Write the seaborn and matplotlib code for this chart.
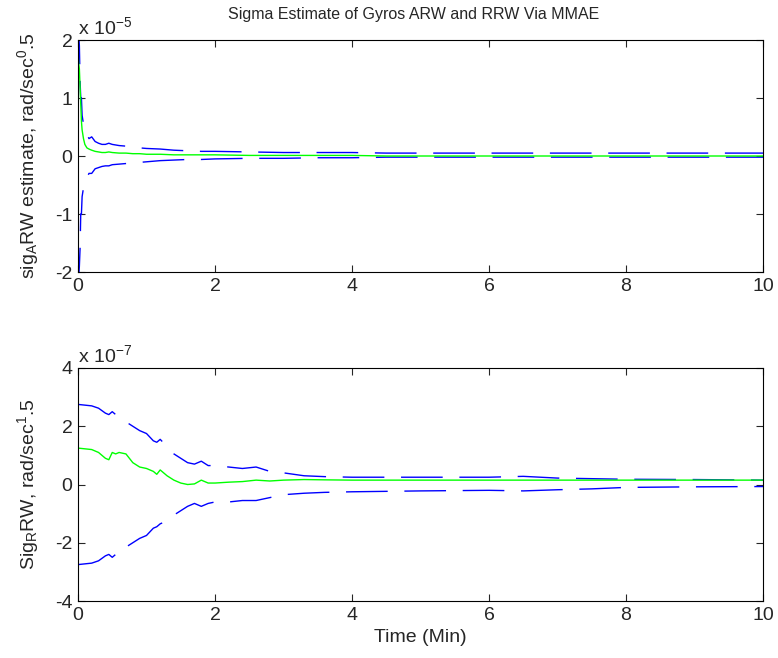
import numpy as np
import matplotlib
matplotlib.use('Agg')
import matplotlib.pyplot as plt
import seaborn as sns

# time axis (min) and values
# top panel: sigma ARW estimate (x 1e-5)
t_top = [0.0, 0.01, 0.02, 0.03, 0.04, 0.05, 0.06, 0.08, 0.1, 0.13, 0.16, 0.2, 0.25,
         0.3, 0.35, 0.4, 0.45, 0.5, 0.6, 0.7, 0.8, 0.9, 1.0, 1.2, 1.4, 1.6, 1.8,
         2.0, 2.5, 3.0, 3.5, 4.0, 4.5, 5.0, 6.0, 7.0, 8.0, 9.0, 10.0]
arw_upper = [2.3, 2.1, 1.9, 1.3, 1.0, 1.0, 0.7, 0.55, 0.42, 0.38, 0.3, 0.33, 0.25,
             0.22, 0.2, 0.2, 0.22, 0.2, 0.18, 0.17, 0.15, 0.14, 0.13, 0.12, 0.1, 0.09, 0.08,
             0.08, 0.07, 0.06, 0.06, 0.06, 0.05, 0.05, 0.05, 0.05, 0.05, 0.05, 0.05]
arw_lower = [-2.3, -2.1, -1.9, -1.6, -1.0, -1.0, -0.7, -0.55, -0.42, -0.38, -0.3, -0.3, -0.22,
             -0.2, -0.18, -0.17, -0.17, -0.15, -0.14, -0.13, -0.12, -0.11, -0.1, -0.08, -0.07, -0.06, -0.06,
             -0.05, -0.04, -0.04, -0.03, -0.03, -0.02, -0.02, -0.02, -0.02, -0.02, -0.02, -0.02]
arw_est = [1.8, 1.6, 1.5, 1.2, 0.9, 0.6, 0.45, 0.3, 0.2, 0.14, 0.12, 0.1, 0.08,
           0.07, 0.06, 0.06, 0.07, 0.06, 0.05, 0.05, 0.04, 0.04, 0.03, 0.03, 0.02, 0.02, 0.02,
           0.02, 0.01, 0.01, 0.01, 0.01, 0.0, 0.0, 0.0, 0.0, 0.0, 0.0, 0.0]

# bottom panel: sigma RRW estimate (x 1e-7)
t_bot = [0.0, 0.2, 0.3, 0.4, 0.45, 0.5, 0.55, 0.6, 0.7, 0.8, 0.9, 1.0, 1.1, 1.15,
         1.2, 1.3, 1.4, 1.5, 1.6, 1.7, 1.8, 1.9, 2.0, 2.2, 2.4, 2.6, 2.8, 3.0,
         3.3, 3.6, 4.0, 5.0, 6.0, 6.5, 7.0, 7.5, 8.0, 9.0, 10.0]
rrw_upper = [2.75, 2.7, 2.62, 2.45, 2.4, 2.5, 2.4, 2.25, 2.15, 2.0, 1.85, 1.75, 1.5, 1.45,
             1.55, 1.3, 1.05, 0.9, 0.75, 0.7, 0.8, 0.65, 0.65, 0.6, 0.55, 0.6, 0.45, 0.4,
             0.3, 0.27, 0.25, 0.25, 0.25, 0.28, 0.22, 0.2, 0.18, 0.17, 0.15]
rrw_lower = [-2.75, -2.7, -2.62, -2.45, -2.4, -2.5, -2.4, -2.2, -2.15, -2.0, -1.85, -1.75, -1.5, -1.45,
             -1.35, -1.25, -1.05, -0.9, -0.75, -0.65, -0.75, -0.65, -0.6, -0.6, -0.55, -0.55, -0.45, -0.35,
             -0.3, -0.27, -0.25, -0.22, -0.2, -0.22, -0.18, -0.15, -0.1, -0.08, -0.07]
rrw_est = [1.25, 1.2, 1.1, 0.9, 0.85, 1.1, 1.05, 1.1, 1.05, 0.75, 0.6, 0.55, 0.45, 0.35,
           0.5, 0.3, 0.15, 0.05, 0.0, 0.02, 0.15, 0.05, 0.05, 0.08, 0.1, 0.15, 0.12, 0.15,
           0.17, 0.16, 0.15, 0.15, 0.15, 0.15, 0.15, 0.15, 0.15, 0.15, 0.15]

sns.set_style('ticks')
plt.rcParams['font.family'] = ['Liberation Sans', 'DejaVu Sans']
plt.rcParams['mathtext.fontset'] = 'custom'
plt.rcParams['mathtext.rm'] = 'Liberation Sans'
plt.rcParams['mathtext.it'] = 'Liberation Sans'

fig = plt.figure(figsize=(7.78, 6.58), dpi=100)
ax1 = fig.add_axes([78 / 778, 1 - 272 / 658, 685 / 778, 232 / 658])
ax2 = fig.add_axes([78 / 778, 1 - 601 / 658, 685 / 778, 233 / 658])

dash = (0, (30, 12))
blue = '#0000ff'
green = '#00ff00'


def draw_panel(ax, t, upper, lower, est, scale):
    t = np.asarray(t)
    sns.lineplot(x=t, y=np.asarray(upper) * scale, ax=ax, color=blue, lw=1,
                 linestyle=dash, estimator=None, sort=False)
    sns.lineplot(x=t, y=np.asarray(lower) * scale, ax=ax, color=blue, lw=1,
                 linestyle=dash, estimator=None, sort=False)
    sns.lineplot(x=t, y=np.asarray(est) * scale, ax=ax, color=green, lw=1,
                 estimator=None, sort=False)


draw_panel(ax1, t_top, arw_upper, arw_lower, arw_est, 1e-5)
draw_panel(ax2, t_bot, rrw_upper, rrw_lower, rrw_est, 1e-7)

for ax, lim, exp in [(ax1, 2, -5), (ax2, 4, -7)]:
    ax.set_xlim(0, 10)
    ax.set_ylim(-lim * 10.0 ** exp, lim * 10.0 ** exp)
    ticks = np.linspace(-lim, lim, 5)
    ax.set_yticks(ticks * 10.0 ** exp)
    ax.set_yticklabels([f'{v:g}' for v in ticks])
    ax.set_xticks([0, 2, 4, 6, 8, 10])
    ax.tick_params(direction='in', top=True, right=True, labelsize=14, length=5, width=0.8, pad=4)
    for s in ax.spines.values():
        s.set_linewidth(0.8)
        s.set_color('black')
    ax.text(0, 1.01, r'x 10$^{%d}$' % exp, transform=ax.transAxes, fontsize=14,
            ha='left', va='bottom')

ax1.set_title('Sigma Estimate of Gyros ARW and RRW Via MMAE', fontsize=11.5, pad=15, x=0.49)
ax1.set_ylabel(r'sig$_A$RW estimate, rad/sec$^0$.5', fontsize=14, labelpad=10)
ax2.set_ylabel(r'Sig$_R$RW, rad/sec$^1$.5', fontsize=14, labelpad=10)
ax2.set_xlabel('Time (Min)', fontsize=14, labelpad=4)

fig.savefig('out.png', dpi=100)
